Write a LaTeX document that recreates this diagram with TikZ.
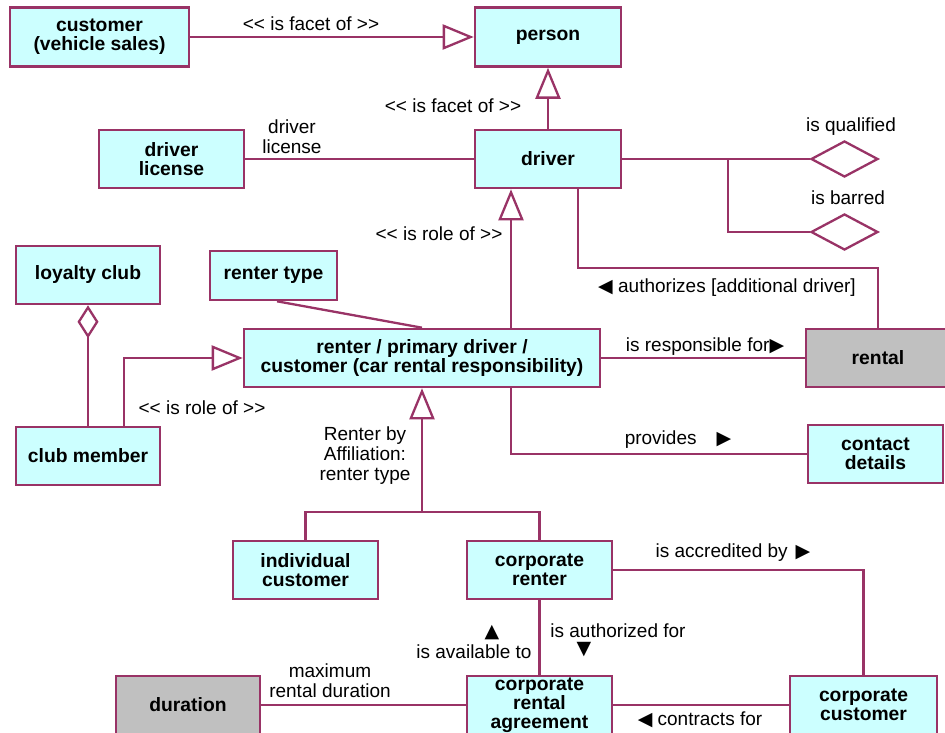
\documentclass[tikz,border=0pt]{standalone}
\usepackage{fontspec}
\setmainfont{Liberation Sans}
\newfontfamily\symf{DejaVu Sans}
\usetikzlibrary{arrows.meta,shapes.geometric,calc}
\definecolor{lc}{HTML}{993366}
\definecolor{boxc}{HTML}{CCFFFF}
\definecolor{grayc}{HTML}{C0C0C0}
\tikzset{
  box/.style={draw=lc,line width=2.6pt,fill=boxc,inner sep=0pt,align=center,
    font=\fontsize{19.3}{19}\selectfont\bfseries},
  graybox/.style={box,fill=grayc},
  conn/.style={draw=lc,line width=2.3pt},
  gen/.style={conn,-{Triangle[open,length=31pt,width=25pt,fill=white,line width=2.3pt]}},
  lbl/.style={inner sep=0pt,align=center,font=\fontsize{19}{20}\selectfont},
  qual/.style={draw=lc,line width=2.3pt,fill=white,diamond,inner sep=0pt,minimum width=67pt,minimum height=36pt},
}
\newcommand{\rt}{{\symf\fontsize{19}{19}\selectfont ▶}}
\newcommand{\lt}{{\symf\fontsize{19}{19}\selectfont ◀}}
\newcommand{\ut}{{\symf\fontsize{19}{19}\selectfont ▲}}
\newcommand{\dt}{{\symf\fontsize{19}{19}\selectfont ▼}}
\begin{document}
\begin{tikzpicture}[x=1pt,y=-1pt]
\useasboundingbox[fill=white] (0,0) rectangle (945,733);
% boxes
\node[box,minimum width=179pt,minimum height=59pt] (cvs) at (99.5,37) {customer\\(vehicle sales)};
\node[box,minimum width=146pt,minimum height=59pt] (person) at (548,37) {person};
\node[box,minimum width=146pt,minimum height=58pt] (driver) at (548,159) {driver};
\node[box,minimum width=145pt,minimum height=58pt] (dlic) at (171.5,159) {driver\\license};
\node[box,minimum width=144pt,minimum height=58pt] (loyalty) at (88,275) {loyalty club};
\node[box,minimum width=127pt,minimum height=49pt] (rtype) at (273.5,275.5) {renter type};
\node[box,minimum width=356pt,minimum height=58pt] (renter) at (422,358) {renter / primary driver /\\customer (car rental responsibility)};
\node[graybox,minimum width=144pt,minimum height=58pt] (rental) at (878,358) {rental};
\node[box,minimum width=144pt,minimum height=58pt] (member) at (88,456) {club member};
\node[box,minimum width=135pt,minimum height=58pt] (contact) at (875.5,454) {contact\\details};
\node[box,minimum width=145pt,minimum height=58pt] (indiv) at (305.5,570) {individual\\customer};
\node[box,minimum width=145pt,minimum height=58pt] (corpr) at (539.5,570) {corporate\\renter};
\node[graybox,minimum width=144pt,minimum height=58pt] (duration) at (188,705) {duration};
\node[box,minimum width=145pt,minimum height=58pt] (agree) at (539.5,705) {corporate\\rental\\agreement};
\node[box,minimum width=147pt,minimum height=58pt] (corpcust) at (863.5,705) {corporate\\customer};
\node[qual] (qd) at (844.5,159) {};
\node[qual] (bd) at (844.5,232) {};
% connectors
\draw[gen] (cvs.east) -- (person.west);
\draw[gen] (driver.north) -- (person.south);
\draw[conn] (dlic.east) -- (driver.west);
\draw[conn] (driver.east) -- (qd.west);
\coordinate (br) at (728,159);
\draw[conn] (br) |- (bd.west);
\draw[conn] ($(driver.south)+(30,0)$) |- (728,268) -| (rental.north);
\draw[gen] ($(renter.north)+(89,0)$) -- ($(driver.south)+(-37,0)$);
\draw[conn] ($(rtype.south)+(3.5,0)$) -- (renter.north);
\draw[conn,{Diamond[open,length=33pt,width=21pt,fill=white,line width=2.3pt]}-] (loyalty.south) -- (member.north);
\draw[gen] ($(member.north)+(36,0)$) |- (renter.west);
\draw[conn] (renter.east) -- (rental.west);
\draw[conn] ($(renter.south)+(89,0)$) |- (contact.west);
\coordinate (split) at (422,512);
\draw[gen] (split) -- (renter.south);
\draw[conn] (indiv.north) |- (split) -| (corpr.north);
\draw[conn] (corpr.east) -| (corpcust.north);
\draw[conn] (corpr.south) -- (agree.north);
\draw[conn] (duration.east) -- (agree.west);
\draw[conn] (agree.east) -- (corpcust.west);
% labels
\node[lbl] (l1) at (311,24) {<{}< is facet of >{}>};
\node[lbl] (l2) at (453,106) {<{}< is facet of >{}>};
\node[lbl] (l3) at (292,137) {driver\\license};
\node[lbl] (l4) at (851,127) {is qualified};
\node[lbl] (l5) at (848,198) {is barred};
\node[lbl] (l6) at (727,288) {\lt\ authorizes [additional driver]};
\node[lbl] (l7) at (439,234) {<{}< is role of >{}>};
\node[lbl] (l8) at (705,347) {is responsible for\rt};
\node[lbl] (l9) at (202,408) {<{}< is role of >{}>};
\node[lbl] (l10) at (365,456) {Renter by\\Affiliation:\\renter type};
\node[lbl] (l11) at (678,440) {provides\hspace{20pt}\rt};
\node[lbl] (l12) at (733,553) {is accredited by\hspace{8pt}\rt};
\node[lbl] (l13) at (492,633) {\ut};
\node[lbl] (l14) at (474,652) {is available to};
\node[lbl] (l15) at (618,631) {is authorized for};
\node[lbl] (l16) at (584,650) {\dt};
\node[lbl] (l17) at (330,681) {maximum\\rental duration};
\node[lbl] (l18) at (700,720) {\lt\ contracts for};
\end{tikzpicture}
\end{document}
